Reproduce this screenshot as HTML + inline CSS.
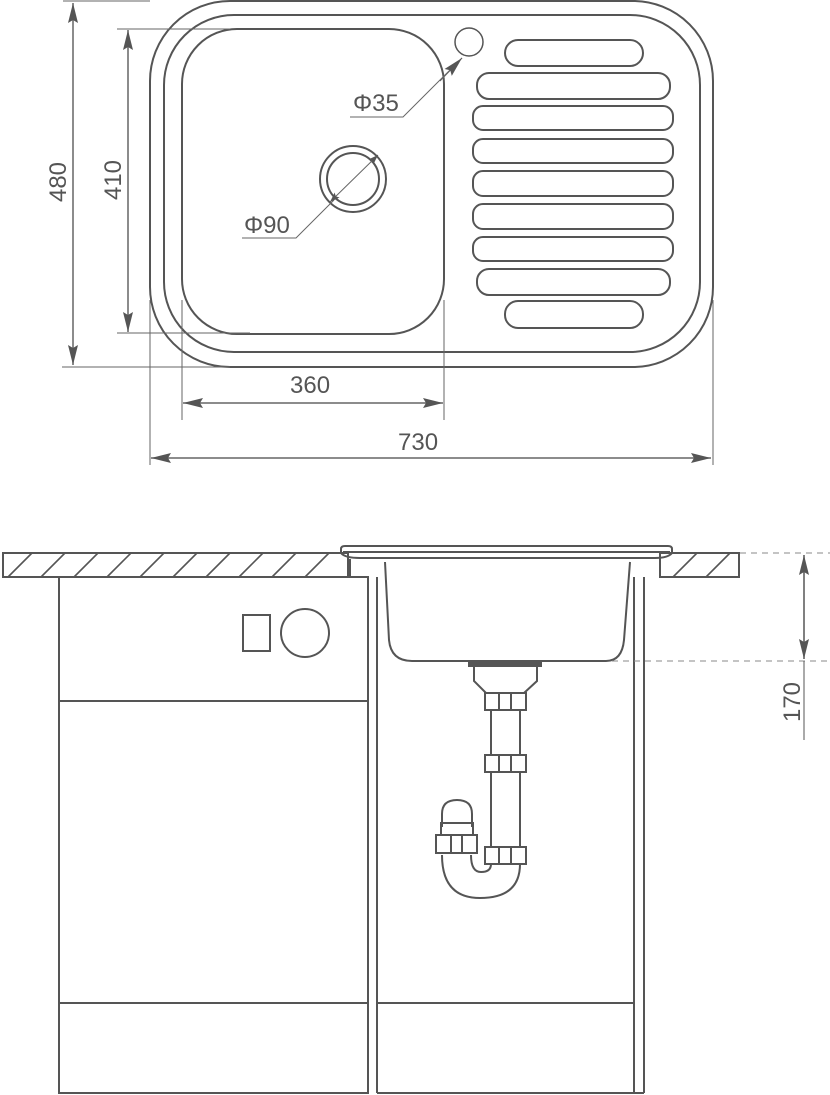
<!DOCTYPE html>
<html><head><meta charset="utf-8"><style>
html,body{margin:0;padding:0;background:#fff}
svg{display:block}
text{font-family:"Liberation Sans",sans-serif;fill:#555}
</style></head><body>
<svg width="830" height="1095" viewBox="0 0 830 1095" xmlns="http://www.w3.org/2000/svg">
<defs>
<marker id="a" viewBox="0 0 10 10" refX="10" refY="5" markerWidth="10" markerHeight="10" markerUnits="userSpaceOnUse" orient="auto-start-reverse"><path d="M0,1.5 L10,5 L0,8.5 L2,5 Z" fill="#555"/></marker>
<marker id="b" viewBox="0 0 20 10" refX="20" refY="5" markerWidth="20" markerHeight="12" markerUnits="userSpaceOnUse" orient="auto-start-reverse"><path d="M0,0 L20,5 L0,10 L3,5 Z" fill="#555"/></marker>
</defs>
<g fill="none" stroke="#555" stroke-width="2">
<!-- top view -->
<rect x="150" y="1" width="563" height="366" rx="80"/>
<rect x="164" y="15" width="536" height="337" rx="70"/>
<rect x="182" y="29" width="262" height="305" rx="55"/>
<circle cx="353" cy="179" r="33"/>
<circle cx="353" cy="179" r="26"/>
<circle cx="469" cy="42" r="14" stroke-width="1.5"/>
<rect x="505" y="40" width="138" height="26" rx="13"/>
<rect x="477" y="73" width="193" height="26" rx="12"/>
<rect x="473" y="106" width="200" height="24" rx="10"/>
<rect x="473" y="139" width="200" height="24" rx="10"/>
<rect x="473" y="171" width="200" height="25" rx="10"/>
<rect x="473" y="204" width="200" height="25" rx="10"/>
<rect x="473" y="237" width="200" height="24" rx="10"/>
<rect x="477" y="269" width="193" height="26" rx="12"/>
<rect x="505" y="301" width="138" height="27" rx="13"/>
</g>
<g fill="none" stroke="#666" stroke-width="1">
<line x1="63" y1="1" x2="150" y2="1"/>
<line x1="62" y1="367" x2="230" y2="367"/>
<line x1="117" y1="29" x2="230" y2="29"/>
<line x1="117" y1="333" x2="250" y2="333"/>
<line x1="150" y1="300" x2="150" y2="465"/>
<line x1="182" y1="300" x2="182" y2="420"/>
<line x1="444" y1="300" x2="444" y2="420"/>
<line x1="713" y1="300" x2="713" y2="465"/>
<line x1="73" y1="3" x2="73" y2="365" marker-start="url(#b)" marker-end="url(#b)" stroke-width="1.5"/>
<line x1="128" y1="30" x2="128" y2="332" marker-start="url(#b)" marker-end="url(#b)" stroke-width="1.5"/>
<line x1="183" y1="403" x2="443" y2="403" marker-start="url(#b)" marker-end="url(#b)" stroke-width="1.5"/>
<line x1="151" y1="458" x2="711" y2="458" marker-start="url(#b)" marker-end="url(#b)" stroke-width="1.5"/>
<polyline points="350,117 403,117 462,58"/>
<polyline points="242,238 296,238 334,200"/>
<line x1="330" y1="202" x2="378" y2="155" marker-start="url(#a)" marker-end="url(#a)"/>
<line x1="440" y1="81" x2="462" y2="58" marker-end="url(#b)"/>
</g>
<text x="353" y="111" font-size="24">Φ35</text>
<text x="244" y="233" font-size="24">Φ90</text>
<text x="290" y="393" font-size="24">360</text>
<text x="398" y="450" font-size="24">730</text>
<text transform="translate(66,182) rotate(-90)" font-size="24" text-anchor="middle">480</text>
<text transform="translate(121,180) rotate(-90)" font-size="24" text-anchor="middle">410</text>
<!-- bottom view -->
<g fill="none" stroke="#555" stroke-width="2">
<rect x="3" y="553" width="345" height="24"/>
<rect x="660" y="553" width="79" height="24"/>
<line x1="348" y1="559" x2="348" y2="577"/>
<path d="M341,549 Q341,546 345,546 L668,546 Q672,546 672,549 L672,553 Q668,558 655,558 L360,558 Q345,558 341,553 Z"/>
<line x1="343" y1="552" x2="670" y2="552"/>
<line x1="350" y1="559" x2="350" y2="577"/>
<line x1="660" y1="559" x2="660" y2="577"/>
<path d="M385,562 L389,640 Q391,661 412,661 L606,661 Q622,661 624,640 L630,562"/>
<rect x="59" y="577" width="309" height="516"/>
<line x1="59" y1="701" x2="368" y2="701"/>
<line x1="59" y1="1003" x2="368" y2="1003"/>
<line x1="377" y1="577" x2="377" y2="1093"/>
<line x1="377" y1="1093" x2="644" y2="1093"/>
<line x1="377" y1="1003" x2="634" y2="1003"/>
<line x1="634" y1="577" x2="634" y2="1093"/>
<line x1="644" y1="577" x2="644" y2="1093"/>
<rect x="243" y="615" width="27" height="36"/>
<circle cx="305" cy="633" r="24"/>
<!-- trap -->
<path d="M474,667 L474,681 L486,693 L524,693 L537,681 L537,667"/>
<rect x="485" y="693" width="41" height="17"/>
<line x1="499" y1="693" x2="499" y2="710"/><line x1="511" y1="693" x2="511" y2="710"/>
<line x1="491" y1="710" x2="491" y2="755"/><line x1="520" y1="710" x2="520" y2="755"/>
<rect x="485" y="755" width="41" height="17"/>
<line x1="499" y1="755" x2="499" y2="772"/><line x1="511" y1="755" x2="511" y2="772"/>
<line x1="491" y1="772" x2="491" y2="847"/><line x1="520" y1="772" x2="520" y2="847"/>
<rect x="485" y="847" width="41" height="17"/>
<line x1="499" y1="847" x2="499" y2="864"/><line x1="511" y1="847" x2="511" y2="864"/>
<path d="M520,864 Q520,898 480,898 Q442,898 442,855"/>
<path d="M491,864 Q491,872 481,872 Q471,872 471,855"/>
<path d="M442,827 L442,814 Q442,800 457,800 Q472,800 472,814 L472,827"/>
<path d="M441,835 L441,823 L473,823 L473,835"/>
<rect x="436" y="835" width="41" height="18"/>
<line x1="451" y1="835" x2="451" y2="853"/><line x1="462" y1="835" x2="462" y2="853"/>
</g>
<rect x="468" y="661" width="74" height="6" fill="#555"/>
<g stroke="#555" stroke-width="1.6">
<line x1="8" y1="577" x2="32" y2="553"/><line x1="41" y1="577" x2="65" y2="553"/><line x1="74" y1="577" x2="98" y2="553"/><line x1="107" y1="577" x2="131" y2="553"/><line x1="140" y1="577" x2="164" y2="553"/><line x1="173" y1="577" x2="197" y2="553"/><line x1="206" y1="577" x2="230" y2="553"/><line x1="239" y1="577" x2="263" y2="553"/><line x1="272" y1="577" x2="296" y2="553"/><line x1="305" y1="577" x2="329" y2="553"/>
<line x1="673" y1="577" x2="697" y2="553"/><line x1="706" y1="577" x2="730" y2="553"/>
</g>
<g stroke="#888" stroke-width="1" stroke-dasharray="6,5" fill="none">
<line x1="740" y1="553" x2="830" y2="553"/>
<line x1="612" y1="661" x2="830" y2="661"/>
</g>
<line x1="804" y1="555" x2="804" y2="659" stroke="#555" stroke-width="1.5" marker-start="url(#b)" marker-end="url(#b)"/>
<line x1="804" y1="661" x2="804" y2="740" stroke="#555" stroke-width="1"/>
<text transform="translate(800,702) rotate(-90)" font-size="24" text-anchor="middle">170</text>
</svg>
</body></html>
